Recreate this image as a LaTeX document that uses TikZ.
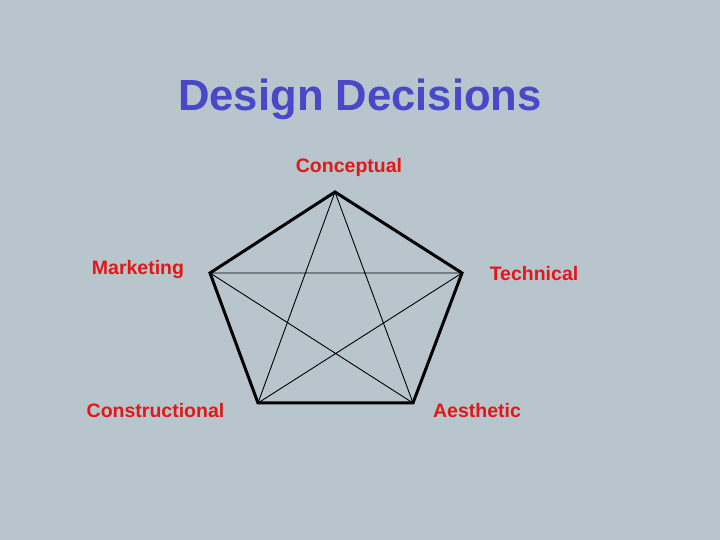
\documentclass[tikz,border=0pt]{standalone}
\usepackage{fontspec}
\setmainfont{Liberation Sans}
\definecolor{bg}{RGB}{184,197,204}
\definecolor{titleblue}{RGB}{72,72,200}
\definecolor{labelred}{RGB}{224,24,24}
\begin{document}
\begin{tikzpicture}[x=1pt,y=1pt,
  lbl/.style={text=labelred,font=\fontsize{19.5}{23}\selectfont\bfseries,anchor=base,inner sep=0pt},
  edge/.style={line width=3pt,line join=miter},
  diag/.style={line width=0.9pt}]
\useasboundingbox (0,0) rectangle (720,540);
\fill[bg] (0,0) rectangle (720,540);
\node[anchor=base,inner sep=0pt,text=titleblue,font=\fontsize{43.6}{48}\selectfont\bfseries] (title) at (360,429.5) {Design Decisions};
\coordinate (T) at (335,348);
\coordinate (L) at (210,267);
\coordinate (R) at (462,267);
\coordinate (BL) at (258,137);
\coordinate (BR) at (413,137);
\draw[diag] (T) -- (BL) (T) -- (BR) (L) -- (R) (L) -- (BR) (R) -- (BL);
\draw[edge] (T) -- (R) -- (BR) -- (BL) -- (L) -- cycle;
\node[lbl] (conc) at (349,367) {Conceptual};
\node[lbl] (mark) at (138,265) {Marketing};
\node[lbl] (tech) at (534,259) {Technical};
\node[lbl] (cons) at (155.5,122) {Constructional};
\node[lbl] (aest) at (477,122) {Aesthetic};
\end{tikzpicture}
\end{document}
